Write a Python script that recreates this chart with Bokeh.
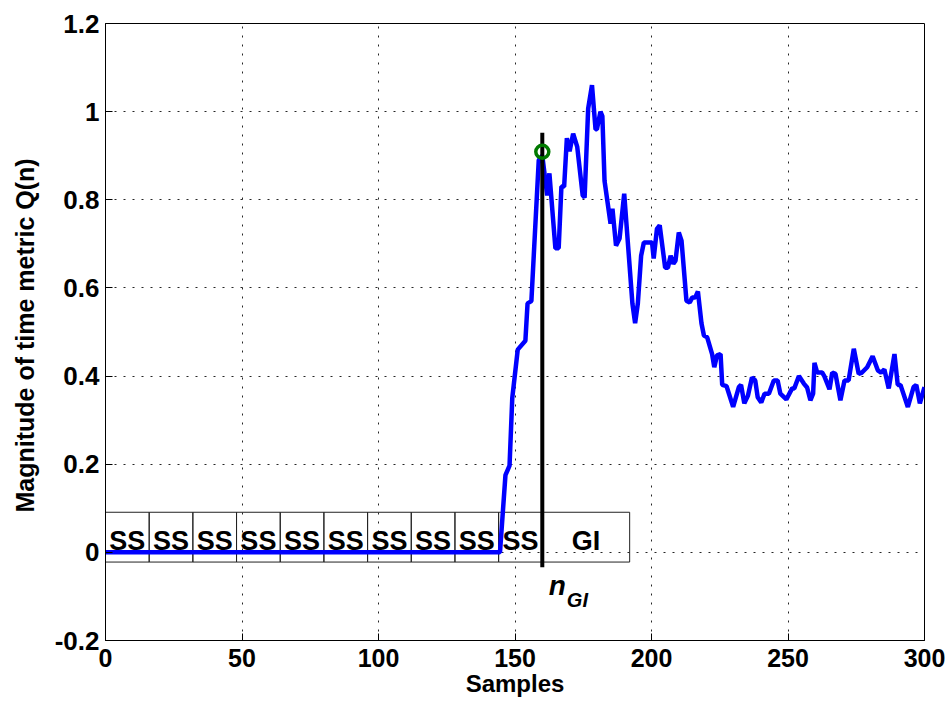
from bokeh.plotting import figure
from bokeh.models import (FixedTicker, Range1d, ColumnDataSource)
from bokeh.core.properties import value
from bokeh.embed import file_html
from bokeh.resources import INLINE

# ---- data ----
samples = [0, 144.5, 146.5, 148, 149, 151, 153.8, 154.6, 156, 158.7, 160, 161.8, 162.6, 164.8,
           166, 167, 168, 169, 170, 171.3, 172.8, 174.8, 175.5, 176.8, 178.2, 179.5, 180, 181.3,
           182, 182.8, 185, 185.7, 187, 188.3, 190, 193, 194, 195, 196.2, 197.2, 200.2, 200.8,
           202, 203, 205, 206, 207, 208, 208.8, 210, 211, 212.8, 214, 214.9, 216, 217, 218.3,
           219.2, 220.4, 222.2, 223, 224, 225.3, 225.9, 227.5, 229.9, 232, 232.8, 234, 235.3,
           236.8, 238, 238.9, 240.2, 241.4, 243, 244.8, 246.2, 247.2, 249.4, 251.5, 252.3, 254,
           255.8, 257, 258.2, 259.2, 259.7, 260.7, 262.5, 263.3, 265.2, 266.2, 267.4, 269.2,
           270.7, 272.2, 274.1, 275.9, 277.1, 279, 281, 282.9, 284.1, 285.3, 286.9, 289, 290.2,
           291.2, 293.9, 296, 297, 298.3, 300]
metric = [0, 0, 0.175, 0.197, 0.35, 0.46, 0.48, 0.565, 0.57, 0.89, 0.90, 0.81, 0.86, 0.69,
          0.69, 0.83, 0.83, 0.94, 0.91, 0.95, 0.92, 0.81, 0.805, 1.007, 1.06, 0.96, 0.96, 1.0,
          0.99, 0.843, 0.746, 0.78, 0.696, 0.712, 0.814, 0.565, 0.52, 0.565, 0.673, 0.703, 0.703,
          0.667, 0.734, 0.742, 0.646, 0.646, 0.673, 0.655, 0.662, 0.726, 0.707, 0.571, 0.567,
          0.578, 0.578, 0.592, 0.52, 0.492, 0.488, 0.45, 0.42, 0.447, 0.45, 0.38, 0.377, 0.33,
          0.375, 0.38, 0.338, 0.355, 0.397, 0.39, 0.352, 0.34, 0.36, 0.36, 0.39, 0.39, 0.36,
          0.347, 0.372, 0.372, 0.40, 0.383, 0.374, 0.345, 0.36, 0.43, 0.408, 0.408, 0.40, 0.37,
          0.408, 0.405, 0.345, 0.39, 0.39, 0.462, 0.405, 0.408, 0.42, 0.445, 0.413, 0.408, 0.415,
          0.372, 0.45, 0.38, 0.38, 0.33, 0.375, 0.38, 0.338, 0.375]
assert len(samples) == len(metric)

box_labels = ["SS"] * 10 + ["GI"]
box_start = [0, 16, 32, 48, 64, 80, 96, 112, 128, 144, 160]
box_end = [16, 32, 48, 64, 80, 96, 112, 128, 144, 160, 192]

n_gi = 160
peak_value = 0.909
marker_top = 0.952
marker_bottom = -0.034

x_ticks = [0, 50, 100, 150, 200, 250, 300]
y_ticks = [-0.2, 0, 0.2, 0.4, 0.6, 0.8, 1.0, 1.2]
y_tick_labels = ["-0.2", "0", "0.2", "0.4", "0.6", "0.8", "1", "1.2"]

FONT = "Liberation Sans"

p = figure(width=950, height=704, frame_width=819, frame_height=617,
           x_range=Range1d(0, 300), y_range=Range1d(-0.2, 1.2),
           output_backend="svg", toolbar_location=None,
           min_border_left=105, min_border_right=26, min_border_top=23, min_border_bottom=64)
p.background_fill_color = "white"
p.border_fill_color = "white"
p.outline_line_color = "black"
p.outline_line_width = 1

for ax in (p.xaxis[0], p.yaxis[0]):
    ax.major_label_text_font = FONT
    ax.major_label_text_font_style = "bold"
    ax.major_label_text_color = "black"
    ax.major_tick_in = 7
    ax.major_tick_out = 0
    ax.minor_tick_line_color = None
    ax.axis_line_color = "black"
    ax.major_tick_line_color = "black"
    ax.axis_label_text_font = FONT
    ax.axis_label_text_font_style = "bold"
    ax.axis_label_text_color = "black"

p.xaxis[0].major_label_text_font_size = "25px"
p.yaxis[0].major_label_text_font_size = "26px"
p.xaxis[0].axis_label_text_font_size = "24px"
p.yaxis[0].axis_label_text_font_size = "25px"

p.xaxis[0].ticker = FixedTicker(ticks=x_ticks)
p.yaxis[0].ticker = FixedTicker(ticks=y_ticks)
p.yaxis[0].major_label_overrides = {t: l for t, l in zip(y_ticks, y_tick_labels)}
p.xaxis[0].major_label_standoff = 8
p.yaxis[0].major_label_standoff = 6

p.xaxis[0].axis_label = "Samples"
p.xaxis[0].axis_label_standoff = 0
p.yaxis[0].axis_label = "Magnitude of time metric  Q(n)"
p.yaxis[0].axis_label_standoff = 13

for g in (p.xgrid[0], p.ygrid[0]):
    g.grid_line_color = "black"
    g.grid_line_alpha = 0.85
    g.grid_line_dash = "2 7"
    g.grid_line_width = 1
p.xgrid[0].ticker = FixedTicker(ticks=x_ticks[1:-1])
p.ygrid[0].ticker = FixedTicker(ticks=y_ticks[1:-1])

# boxes
bsrc = ColumnDataSource(dict(left=box_start, right=box_end, label=box_labels,
                             mid=[(a + b) / 2 for a, b in zip(box_start, box_end)]))
p.quad(left="left", right="right", bottom=-0.022, top=0.091, source=bsrc,
       fill_color=None, line_color="#222222", line_width=1)
p.text(x="mid", y=0.026, text="label", source=bsrc, text_align="center",
       text_baseline="alphabetic", text_font=value(FONT), text_font_style="bold",
       text_font_size="27px", text_color="black")

# curve
p.line(samples, metric, line_color="#0000ff", line_width=4.5)

# n_GI marker
p.segment(x0=[n_gi], y0=[marker_bottom], x1=[n_gi], y1=[marker_top],
          line_color="black", line_width=4)
p.scatter([n_gi], [peak_value], marker="circle", size=13, fill_color=None,
          line_color="#007a00", line_width=3.5)

p.text(x=[162.4], y=[-0.075], text=["n"], text_font=value(FONT), text_font_style="bold italic",
       text_font_size="28px", text_color="black", text_baseline="alphabetic", text_align="left")
p.text(x=[169.0], y=[-0.107], text=["GI"], text_font=value(FONT), text_font_style="bold italic",
       text_font_size="20px", text_color="black", text_baseline="alphabetic", text_align="left")

open("out.html", "w").write(file_html(p, INLINE))
